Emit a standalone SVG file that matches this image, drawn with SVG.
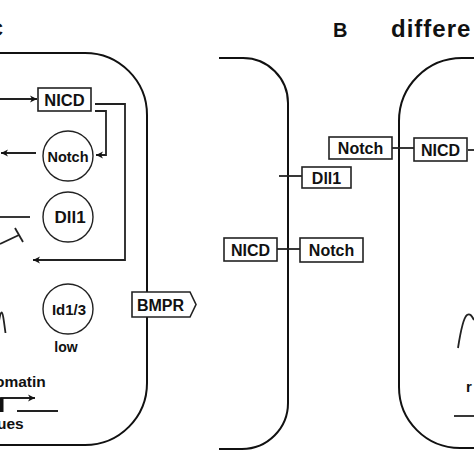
<svg xmlns="http://www.w3.org/2000/svg" width="474" height="474" viewBox="0 0 474 474">
<defs>
<marker id="ah" markerWidth="8" markerHeight="8" refX="7" refY="4" orient="auto" markerUnits="userSpaceOnUse">
<path d="M0,0.5 L7,4 L0,7.5 L2,4 z" fill="#111"/>
</marker>
</defs>
<style>
.cell{fill:none;stroke:#111;stroke-width:2}
.ln{fill:none;stroke:#222;stroke-width:1.8}
.box{fill:#fff;stroke:#222;stroke-width:1.6}
.circ{fill:#fff;stroke:#222;stroke-width:1.4}
.t{font-family:"Liberation Sans",Arial,sans-serif;font-weight:bold;fill:#111;text-anchor:middle}
.tl{font-family:"Liberation Sans",Arial,sans-serif;font-weight:bold;fill:#111}
</style>
<rect width="474" height="474" fill="#fff"/>

<g id="titles">
<text class="tl" x="-10" y="36" font-size="18">C</text>
<text class="tl" x="333" y="37" font-size="20">B</text>
<text class="tl" x="391" y="37" font-size="24" letter-spacing="1">differe</text>
</g>

<g id="cells">
<path class="cell" d="M0,53 H85 A62,62 0 0 1 147,115 V383 A62,62 0 0 1 85,445 H0"/>
<path class="cell" d="M219,58 H243 A45,45 0 0 1 288,103 V403 A46,46 0 0 1 242,449 H219"/>
<path class="cell" d="M474,58 H462 A63,63 0 0 0 399,121 V387 A61,61 0 0 0 460,448 H474"/>
</g>

<g id="connectors">
<line class="ln" x1="0" y1="99" x2="37" y2="99" marker-end="url(#ah)"/>
<line class="ln" x1="36" y1="153" x2="1" y2="153" marker-end="url(#ah)"/>
<polyline class="ln" points="95,104 125,104 125,260 33,260" marker-end="url(#ah)"/>
<polyline class="ln" points="95,111 106,111 106,155 96,155" marker-end="url(#ah)"/>
<line class="ln" x1="0" y1="217" x2="30" y2="217"/>
<line class="ln" x1="0" y1="244" x2="19" y2="235"/>
<line class="ln" x1="15" y1="228" x2="23" y2="242"/>
<path class="ln" d="M-3,334 C-1,320 0,313 1.5,312.5 C3,312.5 4,322 5.5,333"/>
<path class="ln" d="M458,348 C460,335 463,318 467,315 C470,313 472,316 474,320"/>
<line class="ln" x1="279" y1="176" x2="302" y2="176"/>
<line class="ln" x1="277" y1="249" x2="300" y2="249"/>
<line class="ln" x1="392" y1="148" x2="414" y2="148"/>
<line class="ln" x1="468" y1="150" x2="474" y2="150"/>
<polyline class="ln" points="1,412 1,398 35,398" marker-end="url(#ah)"/>
<rect x="0" y="398" width="3.5" height="14" fill="#111"/>
<line class="ln" x1="17" y1="411" x2="58" y2="411"/>
<line class="ln" x1="454" y1="416" x2="474" y2="416"/>
</g>

<g id="nicd-a">
<rect class="box" x="38" y="88" width="53" height="23"/>
<text class="t" x="64.5" y="105.5" font-size="16.5">NICD</text>
</g>
<g id="notch-circle">
<circle class="circ" cx="68" cy="156" r="25"/>
<text class="t" x="68" y="161.5" font-size="14.5">Notch</text>
</g>
<g id="dll1-circle">
<circle class="circ" cx="68" cy="217" r="25"/>
<text class="t" x="70" y="223" font-size="17">Dll1</text>
</g>
<g id="id13-circle">
<circle class="circ" cx="68" cy="309" r="25"/>
<text class="t" x="69" y="314.5" font-size="15">Id1/3</text>
<text class="t" x="66" y="352" font-size="14">low</text>
</g>
<g id="chromatin">
<text class="tl" x="-5" y="387" font-size="15.5">omatin</text>
<text class="tl" x="-3" y="429" font-size="15.5">ues</text>
</g>
<g id="bmpr">
<path class="box" d="M132,292 H190 L196,304.5 L190,317 H132 Z"/>
<text class="t" x="160.5" y="310.5" font-size="16">BMPR</text>
</g>
<g id="dll1-box">
<rect class="box" x="302" y="167" width="49" height="21"/>
<text class="t" x="326.5" y="183.5" font-size="16">Dll1</text>
</g>
<g id="notch-box-top">
<rect class="box" x="329" y="137" width="63" height="22"/>
<text class="t" x="360.5" y="154" font-size="16">Notch</text>
</g>
<g id="nicd-box-right">
<rect class="box" x="414" y="138" width="53" height="23"/>
<text class="t" x="440.5" y="155.5" font-size="16">NICD</text>
</g>
<g id="nicd-box-mid">
<rect class="box" x="224" y="238" width="53" height="23"/>
<text class="t" x="250.5" y="255.5" font-size="16">NICD</text>
</g>
<g id="notch-box-mid">
<rect class="box" x="300" y="238" width="63" height="24"/>
<text class="t" x="331.5" y="255.5" font-size="16">Notch</text>
</g>
<g id="right-text">
<text class="tl" x="466" y="392" font-size="15">r</text>
</g>
</svg>
